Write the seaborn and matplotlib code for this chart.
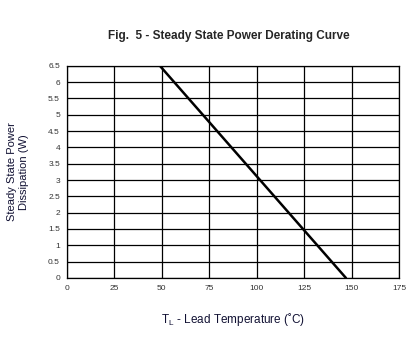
import pandas as pd
import matplotlib
matplotlib.use('Agg')
import matplotlib.pyplot as plt
import seaborn as sns

temp = [49, 147]
power = [6.5, 0]
x_ticks = [0, 25, 50, 75, 100, 125, 150, 175]
y_ticks = [0, 0.5, 1, 1.5, 2, 2.5, 3, 3.5, 4, 4.5, 5, 5.5, 6, 6.5]

df = pd.DataFrame({'temp': temp, 'power': power})

sns.set_style('white')
plt.rcParams['font.family'] = ['Liberation Sans', 'DejaVu Sans']

fig = plt.figure(figsize=(4.08, 3.54), dpi=100)
ax = fig.add_axes([0.164, 0.215, 0.814, 0.599])

sns.lineplot(data=df, x='temp', y='power', color='black', linewidth=1.8, ax=ax)

ax.set_xlim(0, 175)
ax.set_ylim(0, 6.5)
ax.set_xticks(x_ticks)
ax.set_yticks(y_ticks)
ax.set_yticklabels([f'{v:g}' for v in y_ticks])
ax.tick_params(axis='both', length=0, labelsize=6, colors='#333333', pad=5)
ax.grid(True, color='black', linewidth=0.9)
for s in ax.spines.values():
    s.set_color('black')
    s.set_linewidth(0.9)

fig.text(0.56, 0.897, 'Fig.  5 - Steady State Power Derating Curve',
         ha='center', va='center', fontsize=8.5, fontweight='bold')
ax.set_xlabel('T$_\\mathregular{L}$ - Lead Temperature (\u02daC)', fontsize=8.5, labelpad=14, color='#111133')
ax.set_ylabel('Steady State Power\nDissipation (W)', fontsize=8, labelpad=14, color='#111133')

fig.savefig('out.png', dpi=100)
